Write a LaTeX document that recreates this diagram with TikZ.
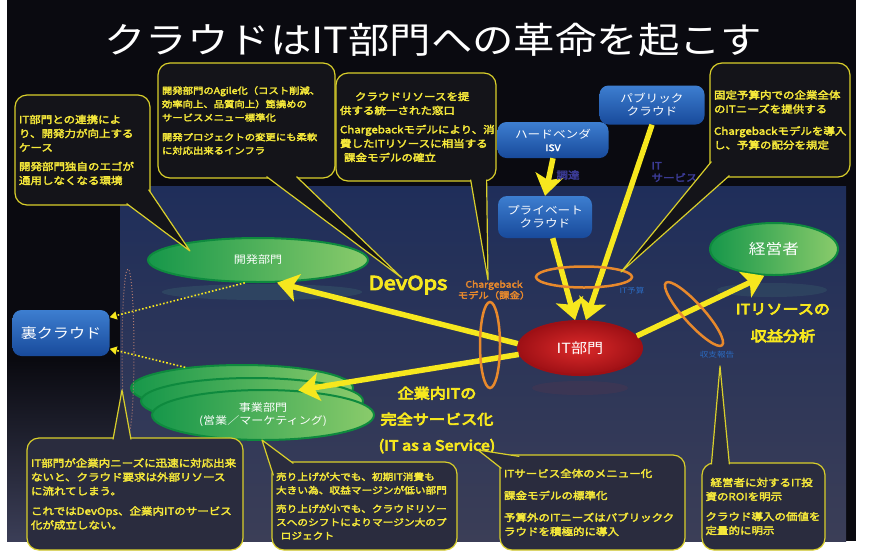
\documentclass[tikz,border=0pt]{standalone}
\usepackage{fontspec}
\setmainfont{Noto Sans CJK JP}[FakeStretch=1.15]
\newfontfamily\jpbold{Noto Sans CJK JP}[FakeStretch=1.15,FakeBold=3]
\newfontfamily\jpheavy{Noto Sans CJK JP}[FakeStretch=1.15,FakeBold=5.5]
\usetikzlibrary{shapes.geometric,arrows.meta,calc}

\definecolor{bgblack}{HTML}{0A0A10}
\definecolor{paneltop}{HTML}{1F2E5A}
\definecolor{panelbot}{HTML}{3B3E57}
\definecolor{calltopfill}{HTML}{141419}
\definecolor{callbotfill}{HTML}{2A2C3E}
\definecolor{callline}{HTML}{D9CF2B}
\definecolor{calltext}{HTML}{F5E83A}
\definecolor{arrowy}{HTML}{F6E71E}
\definecolor{ringorange}{HTML}{E8892C}
\definecolor{bluelab}{HTML}{2B6BC2}
\definecolor{purplelab}{HTML}{3B3B95}
\definecolor{boxtop}{HTML}{3D7ED0}
\definecolor{boxbot}{HTML}{184A9B}
\definecolor{greendark}{HTML}{16974A}
\definecolor{greenlight}{HTML}{8ACB6B}
\definecolor{greenrim}{HTML}{0E8A3E}
\definecolor{redin}{HTML}{DC2A2A}
\definecolor{redout}{HTML}{9E1015}
\definecolor{pinkdot}{HTML}{B07A70}
\definecolor{reflect}{HTML}{3C6670}

\begin{document}
\begin{tikzpicture}[x=1pt,y=-1pt,
    callout/.style={draw=callline, line width=1.2pt, rounded corners=12pt, text=calltext,
      align=left, inner sep=4pt, font=\jpbold\fontsize{10}{14}\selectfont},
    calltop/.style={fill=calltopfill},
    callbot/.style={fill=callbotfill},
    tailline/.style={draw=callline, line width=1.2pt, line join=round},
    greenell/.style={ellipse, draw=greenrim, line width=2pt, left color=greendark,
      right color=greenlight, text=white, inner sep=0pt, align=center},
    bluebox/.style={rounded corners=9pt, top color=boxtop, bottom color=boxbot, text=white,
      align=center, inner sep=0pt, font=\fontsize{11}{13}\selectfont},
    bigarrow/.style={draw=arrowy, line width=5.5pt, -{Stealth[length=21pt,width=28pt,inset=5pt]}},
    oring/.style={ellipse, draw=ringorange, line width=2.5pt, inner sep=0pt},
    ylab/.style={text=arrowy, font=\jpheavy\fontsize{14}{26}\selectfont, align=center},
    smallblue/.style={text=bluelab, font=\fontsize{7.5}{9}\selectfont},
    buylab/.style={text=purplelab, font=\jpbold\fontsize{10}{12}\selectfont, align=left}]
    \useasboundingbox (0,0) rectangle (870,558);

    % background
    \fill[white] (0,0) rectangle (870,558);
    \fill[bgblack] (7,0) rectangle (856,541);
    \shade[top color=bgblack, bottom color=panelbot] (7,360) rectangle (120,541);
    \shade[top color=paneltop, bottom color=panelbot] (120,186) rectangle (846,541);

    % reflections
    \fill[reflect, opacity=.35] (262,292) ellipse [x radius=100, y radius=8];
    \fill[redin, opacity=.07] (580,388) ellipse [x radius=48, y radius=7];
    \fill[reflect, opacity=.3] (772,290) ellipse [x radius=55, y radius=7];

    \node[text=white, font=\fontsize{36}{40}\selectfont] (title) at (433,40)
        {クラウドはIT部門への革命を起こす};

    % departments
    \node[greenell, minimum width=220, minimum height=44, font=\fontsize{10.5}{12}\selectfont] (kai) at (258,260) {開発部門};
    \node[greenell, minimum width=222, minimum height=46] (jig3) at (242,388) {};
    \node[greenell, minimum width=222, minimum height=46] (jig2) at (252,401) {};
    \node[greenell, minimum width=222, minimum height=50, font=\fontsize{10.5}{13}\selectfont] (jig) at (263,415)
        {事業部門\\(営業／マーケティング)};
    \node[greenell, minimum width=128, minimum height=52, font=\fontsize{14.5}{16}\selectfont] (kei) at (774,249) {経営者};
    \node[ellipse, draw=redout, line width=2pt, inner color=redin, outer color=redout, text=white,
        minimum width=124, minimum height=54, font=\fontsize{14}{16}\selectfont] (itb) at (580,348) {IT部門};

    % clouds and vendors
    \node[bluebox, minimum width=105, minimum height=39] (pub) at (652,105) {パブリック\\クラウド};
    \node[bluebox, minimum width=111, minimum height=36] (hw) at (553,140)
        {ハードベンダ\\{\jpbold\fontsize{9}{10}\selectfont ISV}};
    \node[bluebox, minimum width=94, minimum height=42] (priv) at (545,217) {プライベート\\クラウド};
    \node[bluebox, minimum width=97, minimum height=46, font=\fontsize{14}{16}\selectfont] (ura) at (61,333) {裏クラウド};

    % shadow IT
    \node[ellipse, draw=pinkdot, dotted, line width=1pt, minimum width=12, minimum height=166] (oval) at (128,352) {};
    \draw[arrowy, dotted, line width=1.6pt, -{Triangle[length=7pt,width=8pt]}] (kai.-120) -- (ura.18);
    \draw[arrowy, dotted, line width=1.6pt, -{Triangle[length=7pt,width=8pt]}] (jig3.160) -- (ura.-18);

    % flows
    \draw[bigarrow] (hw.south) -- (priv.north);
    \draw[bigarrow] (pub.south) -- (itb.78);
    \draw[bigarrow] (priv.-70) -- (itb.100);
    \draw[bigarrow] (itb.176) -- (kai.-50);
    \draw[bigarrow] (itb.186) -- (jig.35);
    \draw[bigarrow] (itb.12) -- (kei.250);

    % rings
    \node[oring, minimum width=20, minimum height=86] (ocb) at (490,345) {};
    \node[oring, minimum width=96, minimum height=21] (obud) at (584,277) {};
    \node[oring, minimum width=84, minimum height=20, rotate=-48] (orep) at (694,314) {};

    % labels
    \node[text=ringorange, font=\jpbold\fontsize{9}{11}\selectfont, align=center] (cbl) at (494,290)
        {Chargeback\\モデル（課金）};
    \node[smallblue] (bud) at (632,291) {IT予算};
    \node[smallblue] (rep) at (717,355) {収支報告};
    \node[buylab] (buy) at (568,175) {調達};
    \node[buylab, anchor=west] (svl) at (648,172) {IT\\サービス};
    \node[ylab, font=\jpheavy\fontsize{19}{20}\selectfont] (devops) at (408,285) {DevOps};
    \node[ylab] (svc) at (437,420) {企業内ITの\\完全サービス化\\(IT as a Service)};
    \node[ylab, font=\jpheavy\fontsize{14}{27}\selectfont] (roi) at (783,323) {ITリソースの\\収益分析};

    % callouts
    \node[callout, calltop, text width=127, minimum height=110] (c1) at (82.5,150)
        {IT部門との連携によ\\り、開発力が向上する\\ケース\\[5pt]開発部門独自のエゴが\\通用しなくなる環境};
    \node[callout, calltop, text width=169, minimum height=115, font=\jpbold\fontsize{9}{13.5}\selectfont] (c2) at (246.5,120.5)
        {開発部門のAgile化（コスト削減、\\効率向上、品質向上）箆撓めの\\サービスメニュー標準化\\[6pt]開発プロジェクトの変更にも柔軟\\に対応出来るインフラ};
    \node[callout, calltop, text width=152, minimum height=108] (c3) at (416,127)
        {\hspace*{1.5em}クラウドリソースを提\\供する統一された窓口\\[5pt]Chargebackモデルにより、消\\費したITリソースに相当する\\\hspace*{0.4em}課金モデルの確立};
    \node[callout, calltop, text width=132, minimum height=114] (c4) at (780,120)
        {固定予算内での企業全体\\のITニーズを提供する\\[8pt]Chargebackモデルを導入\\し、予算の配分を規定};
    \node[callout, callbot, text width=208, minimum height=112] (c5) at (135,494)
        {IT部門が企業内ニーズに迅速に対応出来\\ないと、クラウド要求は外部リソース\\に流れてしまう。\\[6pt]これではDevOps、企業内ITのサービス\\化が成立しない。};
    \node[callout, callbot, text width=177, minimum height=88, font=\jpbold\fontsize{9.3}{13.5}\selectfont] (c6) at (364.5,506)
        {売り上げが大でも、初期IT消費も\\大きい為、収益マージンが低い部門\\[5pt]売り上げが小でも、クラウドリソー\\スへのシフトによりマージン大のプ\\\hspace*{0.5em}ロジェクト};
    \node[callout, callbot, text width=177, minimum height=95] (c7) at (592.5,502.5)
        {ITサービス全体のメニュー化\\[8pt]課金モデルの標準化\\[8pt]予算外のITニーズはパブリックク\\ラウドを積極的に導入};
    \node[callout, callbot, text width=116, minimum height=87, inner sep=3.5pt] (c8) at (763.5,506.5)
        {\hspace*{0.5em}経営者に対するIT投\\資のROIを明示\\[6pt]クラウド導入の価値を\\定量的に明示};

    % tails
    \coordinate (c1-a) at ($(c1.south east)+(-24,-2)$);
    \coordinate (c1-b) at ($(c1.south east)+(-2,-16)$);
    \coordinate (c2-a) at ($(c2.south)+(20,-2)$);
    \coordinate (c2-b) at ($(c2.south)+(50,-2)$);
    \coordinate (c3-a) at ($(c3.south east)+(-26,-2)$);
    \coordinate (c3-b) at ($(c3.south east)+(-10,-2)$);
    \coordinate (c4-a) at ($(c4.south west)+(2,-16)$);
    \coordinate (c4-b) at ($(c4.south west)+(20,-2)$);
    \coordinate (c5-a) at ($(c5.north)+(-22,2)$);
    \coordinate (c5-b) at ($(c5.north)+(-4,2)$);
    \coordinate (c6-a) at ($(c6.north west)+(2,14)$);
    \coordinate (c6-b) at ($(c6.north west)+(22,2)$);
    \coordinate (c7-a) at ($(c7.north west)+(2,14)$);
    \coordinate (c7-b) at ($(c7.north west)+(20,2)$);
    \coordinate (c8-a) at ($(c8.north west)+(10,2)$);
    \coordinate (c8-b) at ($(c8.north west)+(28,2)$);
    \foreach \c/\x/\y in {c1/190/251,c2/402/278,c3/488/280,c4/621/272,c5/122/390,c6/262/440,c7/478/450,c8/720/366}
        {\coordinate (\c-t) at (\x,\y);}
    \foreach \c/\f in {c1/calltop,c2/calltop,c3/calltop,c4/calltop,c5/callbot,c6/callbot,c7/callbot,c8/callbot}
        {\fill[\f] (\c-a) -- (\c-t) -- (\c-b) -- cycle;
         \draw[tailline] (\c-a) -- (\c-t) -- (\c-b);}
\end{tikzpicture}
\end{document}
